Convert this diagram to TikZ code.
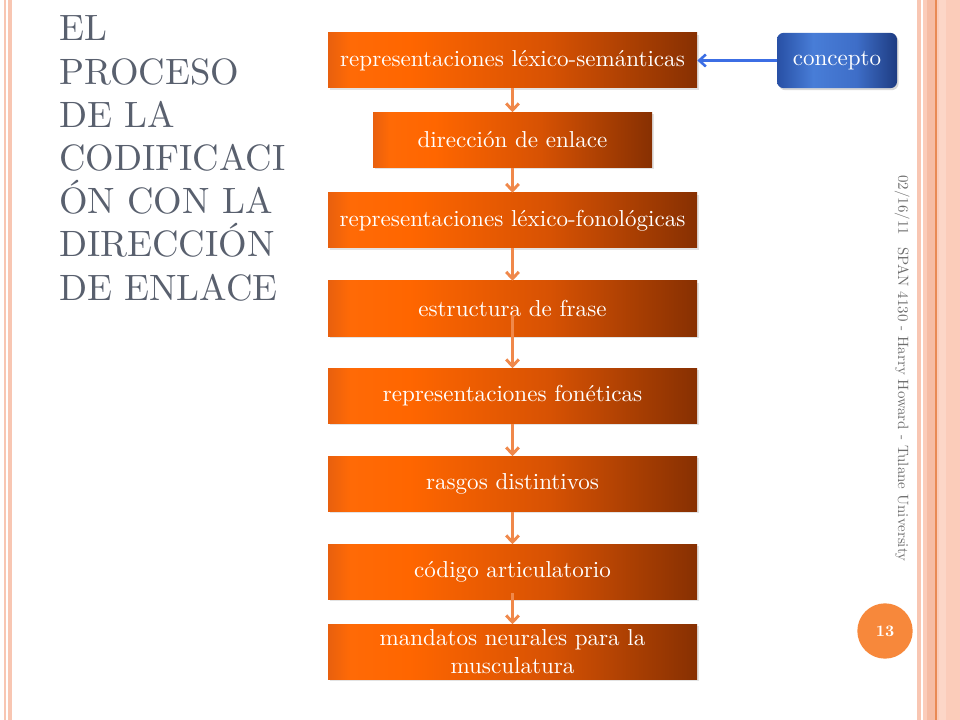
\documentclass[tikz,border=0pt]{standalone}
\usepackage{fontspec}
\setmainfont{lmroman10-regular}[Extension=.otf, BoldFont=lmroman10-bold]
\usetikzlibrary{arrows.meta,shadows}
\definecolor{oA}{RGB}{232,96,14}
\definecolor{oB}{RGB}{255,106,6}
\definecolor{oC}{RGB}{255,102,0}
\definecolor{oM}{RGB}{215,82,3}
\definecolor{oD}{RGB}{135,48,2}
\definecolor{bA}{RGB}{40,80,165}
\definecolor{bB}{RGB}{72,125,215}
\definecolor{bC}{RGB}{62,110,200}
\definecolor{bD}{RGB}{30,60,130}
\definecolor{titlegray}{RGB}{89,96,110}
\definecolor{footgray}{RGB}{110,110,110}
\definecolor{arroworange}{RGB}{240,136,74}
\definecolor{arrowblue}{RGB}{60,110,228}
\definecolor{pinkA}{RGB}{248,198,178}
\definecolor{pinkB}{RGB}{251,204,186}
\definecolor{pinkC}{RGB}{246,188,164}
\definecolor{pinkD}{RGB}{252,214,199}
\definecolor{lineorange}{RGB}{233,138,85}
\definecolor{circorange}{RGB}{247,136,59}
\pgfdeclarehorizontalshading{orangebox}{100bp}{color(0bp)=(oA); color(25bp)=(oA); color(28bp)=(oB); color(36bp)=(oC); color(55bp)=(oM); color(75bp)=(oD); color(100bp)=(oD)}
\pgfdeclarehorizontalshading{bluebox}{100bp}{color(0bp)=(bA); color(25bp)=(bA); color(40bp)=(bB); color(58bp)=(bC); color(75bp)=(bD); color(100bp)=(bD)}
\tikzset{
  flowbox/.style={shade, shading=orangebox, text=white, align=center,
    minimum height=41.25pt, inner sep=2pt,
    font=\fontsize{17.3}{20}\selectfont,
    drop shadow={opacity=0.22, shadow xshift=1.2pt, shadow yshift=-1.2pt}},
  widebox/.style={flowbox, minimum width=276.75pt},
  narrowbox/.style={flowbox, minimum width=209.25pt},
  conceptbox/.style={shade, shading=bluebox, rounded corners=5pt, text=white,
    minimum width=90pt, minimum height=41.5pt,
    font=\fontsize{17.3}{20}\selectfont,
    drop shadow={opacity=0.3, shadow xshift=1.2pt, shadow yshift=-1.5pt}},
  flowarrow/.style={draw=arroworange, line width=2.2pt,
    -{Straight Barb[length=5pt,width=9.5pt]}},
  bluearrow/.style={draw=arrowblue, line width=1.9pt,
    -{Straight Barb[length=5pt,width=9pt]}},
  footer/.style={text=footgray, rotate=-90, anchor=west, inner sep=0pt}
}
\begin{document}
\begin{tikzpicture}[x=0.75pt,y=-0.75pt]
\useasboundingbox (0,0) rectangle (960,720);
\fill[white] (0,0) rectangle (960,720);
% side decorations
\draw[pinkA, line width=0.8pt] (5,0) -- (5,720);
\fill[pinkA] (8,0) rectangle (11.5,720);
\fill[pinkA] (917,0) rectangle (920.5,720);
\fill[pinkB] (923,0) rectangle (960,720);
\fill[pinkC] (927,0) rectangle (935,720);
\draw[lineorange, line width=1.2pt] (936,0) -- (936,720);
\fill[pinkD] (939,0) rectangle (946,720);

% title
\node[anchor=north west, inner sep=0pt, align=left, text=titlegray,
  font=\fontsize{27.5}{32.4}\selectfont] (title) at (59,15.5)
  {EL\\PROCESO\\DE LA\\CODIFICACI\\ÓN CON LA\\DIRECCIÓN\\DE ENLACE};

% flow boxes
\node[widebox]   (b1) at (512.5,60.5)  {representaciones léxico-semánticas};
\node[narrowbox] (b2) at (512.5,140)   {dirección de enlace};
\node[widebox]   (b3) at (512.5,220.5) {representaciones léxico-fonológicas};
\node[widebox]   (b4) at (512.5,308.5) {estructura de frase};
\node[widebox]   (b5) at (512.5,396)   {representaciones fonéticas};
\node[widebox]   (b6) at (512.5,484)   {rasgos distintivos};
\node[widebox]   (b7) at (512.5,572)   {código articulatorio};
\node[widebox, font=\fontsize{17.3}{21}\selectfont] (b8) at (512.5,652)
  {mandatos neurales para la\\musculatura};

\node[conceptbox] (c) at (837,60.5) {concepto};

% connectors
\coordinate (s4) at (512.5,315);
\coordinate (s7) at (512.5,593);
\draw[bluearrow] (c.west) -- (b1.east);
\draw[flowarrow] (b1.south) -- (b2.north);
\draw[flowarrow] (b2.south) -- (b3.north);
\draw[flowarrow] (b3.south) -- (b4.north);
\draw[flowarrow] (s4) -- (b5.north);
\draw[flowarrow] (b5.south) -- (b6.north);
\draw[flowarrow] (b6.south) -- (b7.north);
\draw[flowarrow] (s7) -- (b8.north);

% footer
\node[footer, font=\fontsize{11.2}{13}\selectfont] (date) at (902,175) {02/16/11};
\node[footer, font=\fontsize{11.2}{13}\selectfont] (foot) at (902,247)
  {SPAN 4130 - Harry Howard - Tulane University};
\node[circle, fill=circorange, minimum size=41.5pt, inner sep=0pt, text=white,
  font=\fontsize{12}{14}\selectfont\bfseries] (num) at (885,631) {13};
\end{tikzpicture}
\end{document}
